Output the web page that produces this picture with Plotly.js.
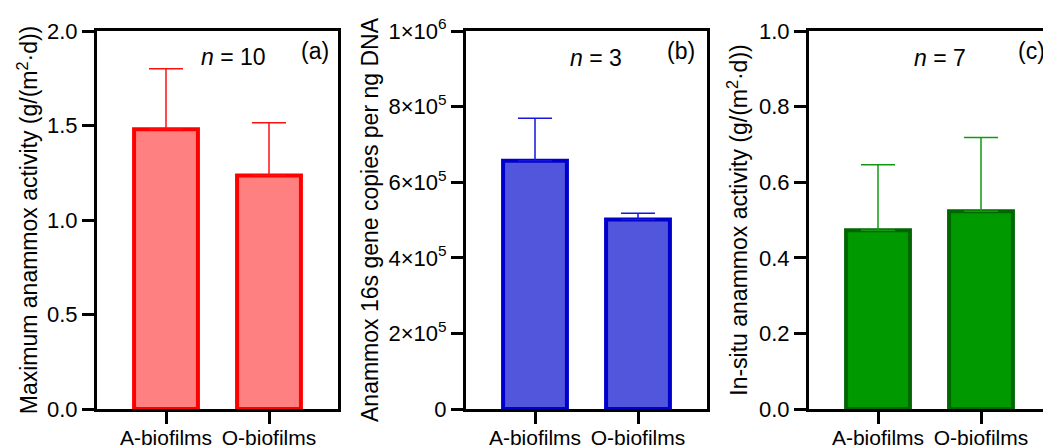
<!DOCTYPE html>
<html><head><meta charset="utf-8">
<script src="https://cdn.plot.ly/plotly-3.0.1.min.js"></script>
<style>html,body{margin:0;padding:0;overflow:hidden;background:#fff}#chart{width:1060px;height:448px}</style>
</head><body><div id="chart"></div>
<script>
const categories = ['A-biofilms', 'O-biofilms'];
const maxActivity = [1.48, 1.235];
const maxActivityErr = [0.32, 0.28];
const geneCopies = [657000, 501000];
const geneCopiesErr = [112000, 17000];
const insituActivity = [0.473, 0.523];
const insituActivityErr = [0.173, 0.195];
const sampleSizes = [10, 3, 7];
const panelLabels = ['(a)', '(b)', '(c)'];
const geneTickVals = [0, 200000, 400000, 600000, 800000, 1000000];
const geneTickText = ['0', '2×10<sup>5</sup>', '4×10<sup>5</sup>', '6×10<sup>5</sup>', '8×10<sup>5</sup>', '1×10<sup>6</sup>'];

const W = 1060, H = 448, T = 31, B = 39;
const plotH = H - T - B;
const FONT = 'Liberation Sans, Arial, sans-serif';
const px = v => v / W;
const py = v => (H - B - v) / plotH;

function barTrace(vals, errs, fill, line, errColor, xa, ya) {
  return {
    type: 'bar', x: categories, y: vals, xaxis: xa, yaxis: ya,
    width: 0.62,
    marker: {color: fill, line: {color: line, width: 4}},
    error_y: {type: 'data', symmetric: false, array: errs, arrayminus: [0, 0],
      color: errColor, thickness: 1.5, width: 17},
    showlegend: false, hoverinfo: 'skip'
  };
}

const data = [
  barTrace(maxActivity, maxActivityErr, '#FF8080', '#FF0000', '#FF1010', 'x', 'y'),
  barTrace(geneCopies, geneCopiesErr, '#5156DD', '#0000CC', '#1515DD', 'x2', 'y2'),
  barTrace(insituActivity, insituActivityErr, '#009900', '#006600', '#109A10', 'x3', 'y3')
];

const xBase = {
  type: 'category', range: [-0.67, 1.67], showline: true, linecolor: '#000', linewidth: 3,
  mirror: true, ticks: 'outside', ticklen: 12, tickwidth: 3, tickcolor: '#000', ticklabelstandoff: -4,
  tickfont: {family: FONT, size: 21, color: '#000'}, showgrid: false, zeroline: false, fixedrange: true
};
const yBase = {
  showline: true, linecolor: '#000', linewidth: 3, mirror: true, ticks: 'outside',
  ticklen: 12, tickwidth: 3, tickcolor: '#000', tickfont: {family: FONT, size: 22, color: '#000'},
  showgrid: false, zeroline: false, fixedrange: true
};
const titleFont = {family: FONT, size: 23, color: '#000'};

const layout = {
  width: W, height: H,
  margin: {l: 0, r: 0, t: T, b: B, pad: 0},
  paper_bgcolor: '#fff', plot_bgcolor: '#fff',
  font: {family: FONT, color: '#000'},
  xaxis: Object.assign({}, xBase, {domain: [px(97), px(338)], anchor: 'y'}),
  xaxis2: Object.assign({}, xBase, {domain: [px(466), px(707)], anchor: 'y2'}),
  xaxis3: Object.assign({}, xBase, {domain: [px(809), px(1050)], anchor: 'y3'}),
  yaxis: Object.assign({}, yBase, {anchor: 'x', range: [0, 2], tickvals: [0, 0.5, 1, 1.5, 2],
    ticktext: ['0.0', '0.5', '1.0', '1.5', '2.0'],
    title: {text: 'Maximum anammox activity (g/(m<sup>2</sup>·d))', font: titleFont, standoff: 3}}),
  yaxis2: Object.assign({}, yBase, {anchor: 'x2', range: [0, 1000000], tickvals: geneTickVals, ticktext: geneTickText,
    title: {text: 'Anammox 16s gene copies per ng DNA', font: titleFont, standoff: 4}}),
  yaxis3: Object.assign({}, yBase, {anchor: 'x3', range: [0, 1], tickvals: [0, 0.2, 0.4, 0.6, 0.8, 1],
    ticktext: ['0.0', '0.2', '0.4', '0.6', '0.8', '1.0'],
    title: {text: 'In-situ anammox activity (g/(m<sup>2</sup>·d))', font: titleFont, standoff: 5}}),
  annotations: [
    {x: px(233), y: py(57), text: '<i>n</i> = ' + sampleSizes[0]},
    {x: px(315), y: py(51), text: panelLabels[0]},
    {x: px(596), y: py(58), text: '<i>n</i> = ' + sampleSizes[1]},
    {x: px(681), y: py(51), text: panelLabels[1]},
    {x: px(940), y: py(58), text: '<i>n</i> = ' + sampleSizes[2]},
    {x: px(1031), y: py(51), text: panelLabels[2]}
  ].map(a => Object.assign({xref: 'paper', yref: 'paper', showarrow: false,
    xanchor: 'center', yanchor: 'middle', font: {family: FONT, size: 23, color: '#000'}}, a))
};

Plotly.newPlot('chart', data, layout, {displayModeBar: false, staticPlot: true});
</script>
</body></html>
